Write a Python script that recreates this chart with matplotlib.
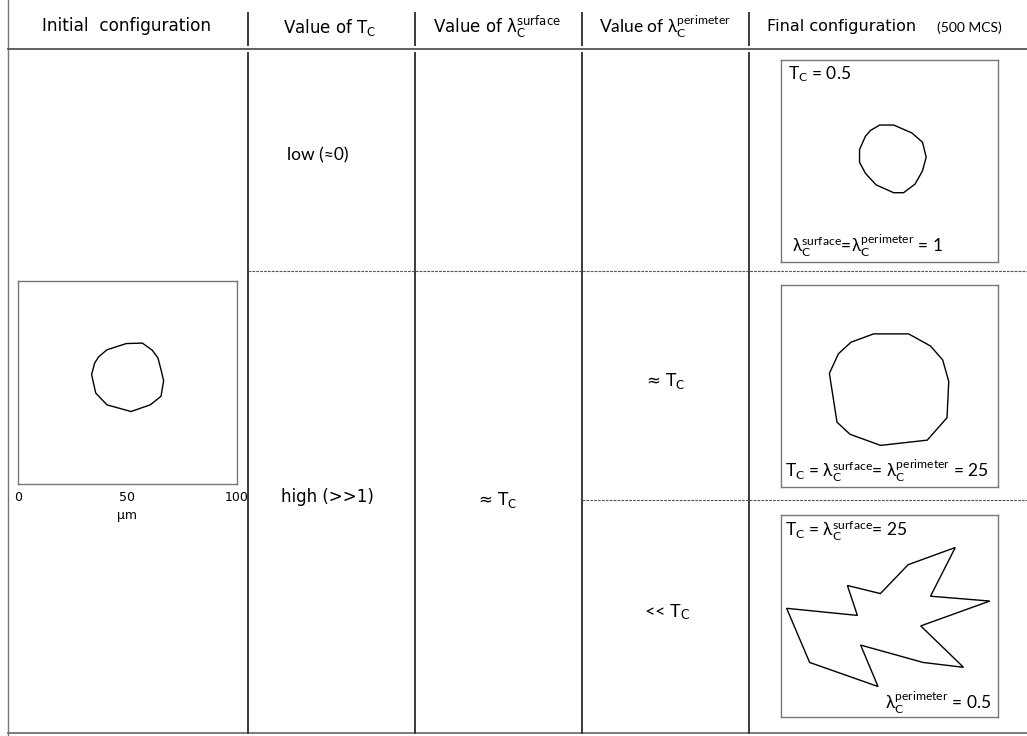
import matplotlib
matplotlib.use("Agg")
import matplotlib.pyplot as plt

# ---------------- data ----------------
headers = ["Initial  configuration",
           r"Value of $\mathregular{T_C}$",
           r"Value of $\mathregular{λ_C^{surface}}$",
           r"Value of $\mathregular{λ_C^{perimeter}}$",
           "Final configuration"]
header_note = "(500 MCS)"
tc_labels = ["low (≈0)", "high (>>1)"]
surface_label = r"≈ $\mathregular{T_C}$"
perimeter_labels = [r"≈ $\mathregular{T_C}$", r"<< $\mathregular{T_C}$"]
scale_ticks = [0, 50, 100]
scale_tick_labels = ["0", "50", "100"]
scale_unit = "µm"

# cell outlines in µm (0-100 domain)
initial_x = [49.5, 56.8, 61.3, 63.9, 65.3, 66.5, 65.3, 60.4, 51.6, 40.6, 35.5, 33.6, 35.0, 36.8, 40.6]
initial_y = [69.2, 69.4, 65.9, 62.1, 56.3, 50.9, 43.2, 39.0, 35.7, 39.0, 44.8, 53.9, 59.6, 62.6, 66.1]

final_low_x = [45.5, 51.9, 60.3, 65.2, 66.9, 65.2, 61.8, 56.5, 51.9, 43.8, 38.9, 36.2, 36.2, 38.9, 41.2]
final_low_y = [67.8, 67.8, 63.9, 59.3, 51.9, 45.1, 38.6, 34.3, 34.3, 38.2, 43.9, 49.4, 55.7, 62.2, 65.1]

final_eq_x = [42.7, 58.8, 68.9, 74.5, 77.3, 76.5, 67.4, 45.9, 31.8, 25.8, 22.3, 26.5, 32.3]
final_eq_y = [75.8, 75.8, 69.8, 62.9, 52.3, 34.3, 23.2, 20.6, 26.1, 32.1, 56.3, 66.0, 71.7]

final_lowper_x = [2.6, 35.2, 30.6, 45.8, 58.6, 80.3, 68.9, 96.2, 64.4, 84.1, 65.5, 36.7, 44.7, 13.2]
final_lowper_y = [53.8, 50.3, 65.1, 61.1, 75.4, 83.9, 59.8, 57.4, 45.1, 24.6, 27.0, 35.6, 15.1, 27.0]

panel_texts_low = [r"$\mathregular{T_C}$ = 0.5",
                   r"$\mathregular{λ_C^{surface}}$=$\mathregular{λ_C^{perimeter}}$ = 1"]
panel_texts_eq = [r"$\mathregular{T_C}$ = $\mathregular{λ_C^{surface}}$= $\mathregular{λ_C^{perimeter}}$ = 25"]
panel_texts_lowper = [r"$\mathregular{T_C}$ = $\mathregular{λ_C^{surface}}$= 25",
                      r"$\mathregular{λ_C^{perimeter}}$ = 0.5"]

# ---------------- layout ----------------
W, H = 1027, 736
fig = plt.figure(figsize=(W / 100, H / 100), dpi=100)
ax = fig.add_axes([0, 0, 1, 1])
ax.set_xlim(0, W)
ax.set_ylim(H, 0)
ax.axis("off")

SANS = ["DejaVu Sans"]
CAL = ["Lato", "DejaVu Sans"]
line_col = "#3a3a3a"

col_x = [248, 415, 582, 749]
# left border and bottom line
ax.plot([8, 8], [0, H], color="#777777", lw=1.0)
ax.plot([8, W], [733, 733], color="#666666", lw=1.2)
# header bottom line
ax.plot([8, W], [49, 49], color="#555555", lw=1.3)
for x in col_x:
    ax.plot([x, x], [13, 45], color=line_col, lw=1.4)
    ax.plot([x, x], [53, 733], color=line_col, lw=1.4)
# dashed separators
ax.plot([248, W], [271, 271], color="#555555", lw=0.8, ls=(0, (2.5, 1)))
ax.plot([582, W], [500, 500], color="#555555", lw=0.8, ls=(0, (2.5, 1)))

# header text
ax.text(127, 26, headers[0], ha="center", va="center", fontsize=12.2, family=SANS)
ax.text(330, 27, headers[1], ha="center", va="center", fontsize=12, family=SANS)
ax.text(497, 27, headers[2], ha="center", va="center", fontsize=12, family=SANS)
ax.text(665, 27, headers[3], ha="center", va="center", fontsize=12.5, family=CAL)
ax.text(767, 26, headers[4], ha="left", va="center", fontsize=11.5, family=SANS)
ax.text(937, 28, header_note, ha="left", va="center", fontsize=10, family=CAL)

# body text
ax.text(318, 155, tc_labels[0], ha="center", va="center", fontsize=12.5, family=CAL)
ax.text(327, 497, tc_labels[1], ha="center", va="center", fontsize=12, family=SANS)
ax.text(497, 500, surface_label, ha="center", va="center", fontsize=12, family=SANS)
ax.text(665, 381, perimeter_labels[0], ha="center", va="center", fontsize=12, family=SANS)
ax.text(667, 612, perimeter_labels[1], ha="center", va="center", fontsize=13, family=CAL)


def panel(x0, y0, x1, y1):
    p = fig.add_axes([x0 / W, 1 - y1 / H, (x1 - x0) / W, (y1 - y0) / H])
    p.set_xlim(0, 100)
    p.set_ylim(0, 100)
    for s in p.spines.values():
        s.set_color("#777777")
        s.set_linewidth(1.0)
    p.set_xticks([])
    p.set_yticks([])
    return p


def outline(p, xs, ys):
    p.fill(xs, ys, fill=False, edgecolor="black", lw=1.0)


# initial configuration panel
p0 = panel(18, 281, 237, 484)
outline(p0, initial_x, initial_y)
p0.set_xticks(scale_ticks)
p0.set_xticklabels(scale_tick_labels, fontsize=9, family="DejaVu Sans")
p0.tick_params(axis="x", length=0, pad=5)
p0.set_xlabel(scale_unit, fontsize=9, family="DejaVu Sans", labelpad=4)

# final configuration panels
p1 = panel(781, 60, 998, 262)
outline(p1, final_low_x, final_low_y)
p1.text(0.03, 0.93, panel_texts_low[0], transform=p1.transAxes, ha="left", va="center",
        fontsize=12.5, family=CAL)
p1.text(0.05, 0.08, panel_texts_low[1], transform=p1.transAxes, ha="left", va="center",
        fontsize=12.5, family=CAL)

p2 = panel(781, 285, 998, 487)
outline(p2, final_eq_x, final_eq_y)
p2.text(0.02, 0.08, panel_texts_eq[0], transform=p2.transAxes, ha="left", va="center",
        fontsize=12.5, family=CAL)

p3 = panel(781, 515, 998, 717)
outline(p3, final_lowper_x, final_lowper_y)
p3.text(0.02, 0.92, panel_texts_lowper[0], transform=p3.transAxes, ha="left", va="center",
        fontsize=12.5, family=CAL)
p3.text(0.97, 0.07, panel_texts_lowper[1], transform=p3.transAxes, ha="right", va="center",
        fontsize=12.5, family=CAL)

fig.savefig("out.png", dpi=100)
